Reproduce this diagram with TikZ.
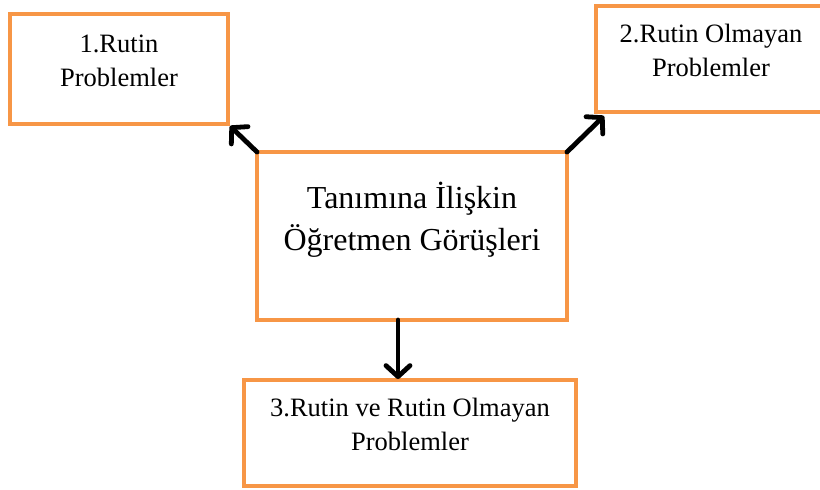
\documentclass[tikz,border=0pt]{standalone}
\usepackage{fontspec}
\setmainfont{Liberation Serif}
\usetikzlibrary{arrows.meta,calc}
\definecolor{boxorange}{HTML}{F79646}
\tikzset{
  box/.style={draw=boxorange, line width=4.5pt, fill=white, rectangle,
    inner sep=0pt, outer sep=0pt},
  smalltext/.style={anchor=base, align=center, inner sep=0pt,
    font=\fontsize{26.5}{34}\selectfont},
  bigtext/.style={anchor=base, align=center, inner sep=0pt,
    font=\fontsize{32}{42}\selectfont},
  link/.style={line width=4.8pt, line cap=round,
    -{Straight Barb[length=11pt, width=24pt, line width=4.8pt, round]}}
}
\begin{document}
\begin{tikzpicture}[x=1pt, y=-1pt]
  \useasboundingbox (0,0) rectangle (820,490);
  % boxes
  \node[box, minimum width=218pt, minimum height=110pt] (b1) at (119,69) {};
  \node[box, minimum width=230pt, minimum height=106pt] (b2) at (711,59) {};
  \node[box, minimum width=310pt, minimum height=168pt] (c) at (412,236) {};
  \node[box, minimum width=332pt, minimum height=106pt] (b3) at (410,433) {};
  % labels (base anchor sits on the last line)
  \node[smalltext] (t1) at (119,86) {1.Rutin\\Problemler};
  \node[smalltext] (t2) at (711,76) {2.Rutin Olmayan\\Problemler};
  \node[bigtext] (tc) at (412,250) {Tanımına İlişkin\\Öğretmen Görüşleri};
  \node[smalltext] (t3) at (410,450) {3.Rutin ve Rutin Olmayan\\Problemler};
  % connectors
  \draw[link] (c.north west) -- ([xshift=2pt,yshift=-2pt]b1.south east);
  \draw[link] (c.north east) -- ([xshift=8pt,yshift=-4pt]b2.south west);
  \draw[link] ([xshift=-14pt]c.south) -- ([xshift=-14pt,yshift=1pt]c.south |- b3.north);
\end{tikzpicture}
\end{document}
